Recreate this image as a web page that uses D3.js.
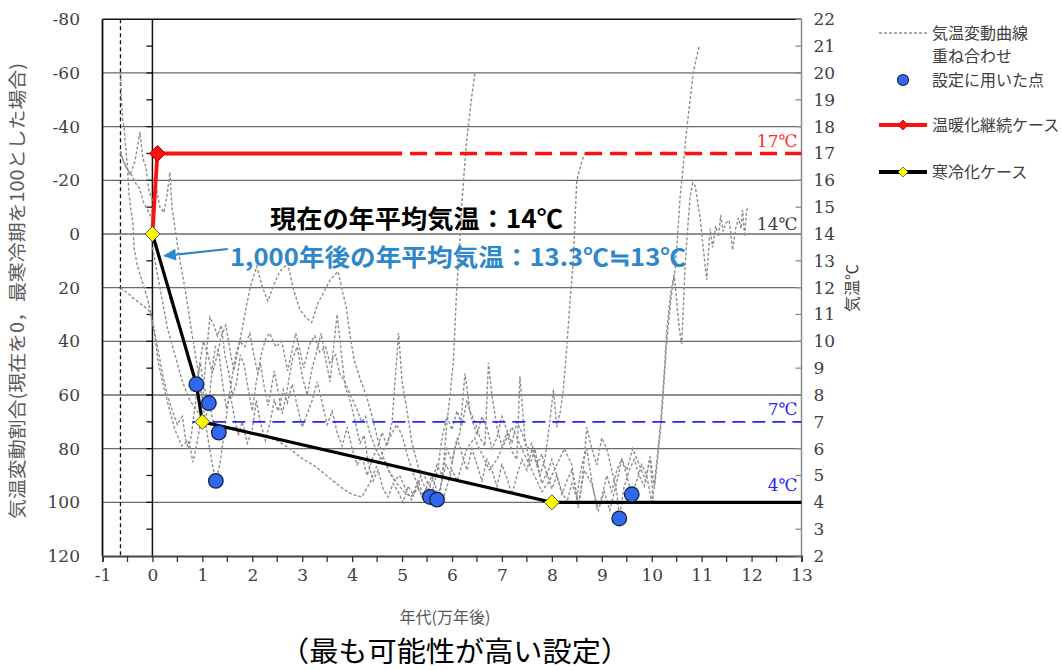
<!DOCTYPE html>
<html>
<head>
<meta charset="utf-8">
<script src="https://cdn.jsdelivr.net/npm/d3@7"></script>
<style>
  body { margin: 0; background: #fff; }
  svg { display: block; }
  text.num { font-family: "DejaVu Serif", "Liberation Serif", serif; }
</style>
</head>
<body>
<svg id="chart" width="1062" height="670"></svg>
<script>
// ---- data (x: 万年後, v: 気温変動割合, 0 = 現在, 100 = 最寒冷期) ----
const xTickValues = [-1, 0, 1, 2, 3, 4, 5, 6, 7, 8, 9, 10, 11, 12, 13];
const leftTickValues = [-80, -60, -40, -20, 0, 20, 40, 60, 80, 100, 120];
const rightTickValues = [22, 21, 20, 19, 18, 17, 16, 15, 14, 13, 12, 11, 10, 9, 8, 7, 6, 5, 4, 3, 2];

const warmingCase = [[0, 0], [0.1, -30], [5, -30]];
const warmingCaseExtension = [[5, -30], [13, -30]];
const warmingMarkers = [[0.1, -30]];
const coolingCase = [[0, 0], [0.88, 56], [1, 70], [8, 100], [13, 100]];
const coolingMarkers = [[0, 0], [1, 70], [8, 100]];
const settingPoints = [[0.88, 56], [1.13, 63], [1.33, 74], [1.27, 92], [5.56, 98], [5.70, 99], [9.35, 106], [9.6, 97]];
const coolingLevelStart = 0.8;
const coolingLevelTemp = 7;
const lastGlacialLine = -0.64;

const tempLabels = ["17℃", "14℃", "7℃", "4℃"];
const tempLabelValues = [17, 14, 7, 4];

// overlaid past temperature-variation curves
const curveA = [[-0.64,-60],[-0.62,-50],[-0.6,-43],[-0.57,-40],[-0.55,-35],[-0.52,-29],[-0.5,-25],[-0.47,-15],[-0.43,-9],[-0.39,-4],[-0.37,5],[-0.3,12],[-0.2,18],[-0.1,24],[0,32],[0.1,42],[0.2,52],[0.3,60],[0.4,66],[0.5,71],[0.6,68],[0.66,76],[0.72,80],[0.78,75],[0.88,60],[0.95,48],[1.02,40],[1.1,44],[1.2,52],[1.3,45],[1.38,38],[1.47,34],[1.55,43],[1.63,51],[1.75,40],[1.87,28],[1.97,19],[2.09,12],[2.19,19],[2.31,25],[2.43,19],[2.55,14],[2.71,11],[2.83,21],[2.95,28],[3.07,31],[3.19,33],[3.31,26],[3.42,22],[3.56,17],[3.72,14],[3.8,21],[3.88,27],[3.96,38],[4.04,47],[4.16,54],[4.28,60],[4.4,68],[4.52,77],[4.64,84],[4.76,89],[4.9,93],[5.04,96],[5.17,98],[5.32,95],[5.44,99],[5.56,98],[5.66,101],[5.76,97],[5.84,84],[5.89,72],[5.96,60],[6.03,47],[6.09,22],[6.14,8],[6.19,-9],[6.24,-22],[6.29,-34],[6.35,-44],[6.4,-52],[6.46,-60]];
const curveB = [[-0.64,-30],[-0.55,-26],[-0.45,-22],[-0.35,-27],[-0.25,-38],[-0.19,-28],[-0.13,-25],[-0.07,-16],[0.01,-12],[0.07,-18],[0.15,-10],[0.23,-8],[0.29,-14],[0.35,-23],[0.39,-10],[0.47,0],[0.55,10],[0.63,18],[0.71,27],[0.79,37],[0.87,46],[0.95,56],[1.03,66],[1.11,76],[1.19,85],[1.27,92],[1.35,86],[1.43,75],[1.51,64],[1.59,54],[1.67,45],[1.75,40],[1.85,42],[1.95,37],[2.03,45],[2.11,52],[2.19,44],[2.27,39],[2.35,37],[2.47,42],[2.59,40],[2.71,51],[2.79,44],[2.87,37],[2.95,43],[3.03,50],[3.15,41],[3.25,38],[3.35,44],[3.47,42],[3.55,48],[3.67,45],[3.75,52],[3.85,55],[3.99,61],[4.11,66],[4.19,70],[4.27,68],[4.35,74],[4.45,79],[4.55,83],[4.67,85],[4.75,89],[4.85,92],[4.95,90],[5.07,95],[5.19,99],[5.31,94],[5.41,88],[5.49,92],[5.59,95],[5.7,99],[5.8,92],[5.88,86],[5.96,89],[6.06,80],[6.16,74],[6.26,52],[6.36,66],[6.46,70],[6.56,76],[6.66,79],[6.73,48],[6.8,60],[6.9,72],[7.0,79],[7.1,74],[7.2,81],[7.3,84],[7.36,53],[7.46,76],[7.56,86],[7.66,80],[7.76,90],[7.86,84],[7.96,70],[8.03,58],[8.1,72],[8.17,66],[8.23,58],[8.3,42],[8.36,26],[8.43,10],[8.47,-8],[8.5,-20],[8.6,-27],[8.68,-31]];
const curveC = [[-0.64,20],[-0.5,22],[-0.38,24],[-0.24,26],[-0.1,28],[-0.05,29],[0.05,38],[0.11,47],[0.2,55],[0.28,61],[0.35,66],[0.45,73],[0.52,76],[0.59,79],[0.65,78],[0.71,77],[0.76,80],[0.81,85],[0.88,79],[0.95,72],[1.02,58],[1.08,45],[1.15,31],[1.23,34],[1.3,38],[1.38,34],[1.45,45],[1.52,51],[1.6,60],[1.68,56],[1.76,45],[1.84,49],[1.92,58],[2.0,66],[2.08,55],[2.16,48],[2.24,57],[2.32,64],[2.44,51],[2.52,59],[2.6,67],[2.7,58],[2.8,47],[2.9,42],[3.0,53],[3.1,60],[3.2,50],[3.3,43],[3.38,37],[3.46,46],[3.56,55],[3.64,40],[3.7,30],[3.78,44],[3.86,57],[3.96,62],[4.06,70],[4.16,78],[4.24,75],[4.32,85],[4.42,92],[4.52,88],[4.62,95],[4.72,98],[4.82,93],[4.92,96],[5.02,100],[5.12,94],[5.22,97],[5.32,92],[5.42,97],[5.52,100],[5.62,95],[5.72,87],[5.8,76],[5.9,68],[6.0,73],[6.1,66],[6.2,71],[6.3,62],[6.4,69],[6.5,75],[6.6,68],[6.7,72],[6.8,80],[6.9,76],[7.0,68],[7.1,73],[7.2,78],[7.3,70],[7.4,74],[7.5,80],[7.6,78],[7.7,86],[7.8,93],[7.9,89],[8.0,95],[8.1,90],[8.2,97],[8.3,92],[8.4,88],[8.53,102],[8.62,90],[8.7,72],[8.8,80],[8.9,86],[9.0,76],[9.1,80],[9.2,88],[9.3,96],[9.35,106],[9.45,94],[9.55,88],[9.65,84],[9.75,90],[9.85,94],[9.97,83],[10.05,94],[10.1,85],[10.18,70],[10.25,52],[10.3,36],[10.38,22],[10.47,13],[10.52,0],[10.57,-14],[10.64,-27],[10.7,-39],[10.77,-50],[10.83,-60],[10.9,-66],[10.95,-70]];
const curveD = [[-0.64,-31],[-0.58,-27],[-0.5,-24],[-0.42,-22],[-0.34,-19],[-0.26,-17],[-0.18,-12],[-0.1,-9],[-0.02,-6],[0.06,2],[0.14,8],[0.22,14],[0.3,20],[0.38,26],[0.46,31],[0.54,35],[0.62,40],[0.7,46],[0.78,51],[0.88,56],[0.96,48],[1.03,57],[1.13,63],[1.2,50],[1.26,42],[1.33,44],[1.4,55],[1.48,65],[1.56,60],[1.64,68],[1.72,75],[1.8,70],[1.9,78],[2.0,73],[2.08,62],[2.16,70],[2.26,77],[2.36,70],[2.44,62],[2.52,66],[2.62,58],[2.7,63],[2.8,56],[2.9,64],[3.0,72],[3.1,67],[3.2,62],[3.3,55],[3.4,63],[3.5,71],[3.6,66],[3.7,74],[3.8,79],[3.9,72],[4.0,80],[4.1,86],[4.2,83],[4.3,90],[4.4,84],[4.5,80],[4.6,74],[4.7,79],[4.8,70],[4.93,37],[5.0,55],[5.1,66],[5.2,78],[5.3,85],[5.4,92],[5.5,96],[5.6,92],[5.7,86],[5.8,90],[5.9,80],[6.0,85],[6.1,76],[6.2,82],[6.3,88],[6.4,80],[6.5,86],[6.6,92],[6.7,84],[6.8,88],[6.9,94],[7.0,86],[7.1,91],[7.2,97],[7.3,90],[7.4,84],[7.5,88],[7.6,80],[7.7,86],[7.8,82],[7.9,90],[8.0,84],[8.1,90],[8.2,96],[8.3,100],[8.4,93],[8.5,98],[8.6,86],[8.7,80],[8.8,92],[8.9,102],[9.0,98],[9.1,90],[9.2,96],[9.3,88],[9.4,84],[9.5,90],[9.6,97],[9.7,92],[9.8,86],[9.9,90],[10.0,100],[10.07,92],[10.13,82],[10.2,68],[10.3,40],[10.38,25],[10.45,15],[10.5,25],[10.55,35],[10.6,41],[10.64,25],[10.67,11],[10.72,-2],[10.77,-14],[10.82,-19],[10.87,-18],[10.92,-12],[10.97,-6],[11.03,5],[11.1,17],[11.14,6],[11.17,-2],[11.22,5],[11.28,-3],[11.34,1],[11.38,-7],[11.43,-1],[11.48,-4],[11.55,-5],[11.58,-1],[11.62,6],[11.68,-2],[11.74,-6],[11.79,-2],[11.82,-9],[11.86,1],[11.9,-9],[11.97,-10]];
const curveE = [[0,5],[0.15,20],[0.3,35],[0.45,45],[0.6,55],[0.75,62],[0.9,66],[1.05,70],[1.13,63],[1.22,70],[1.33,74],[1.45,73],[1.62,72],[1.9,74],[2.2,75],[2.5,77],[2.75,80],[3.02,84],[3.22,86],[3.42,89],[3.62,92],[3.82,95],[4.0,97],[4.19,98],[4.35,93],[4.55,84],[4.72,77],[4.89,71],[5.0,75],[5.1,82],[5.2,88],[5.3,93],[5.4,98],[5.5,94],[5.6,90],[5.7,96],[5.8,100],[5.9,94],[6.0,88],[6.1,92],[6.2,86],[6.3,80],[6.45,76],[6.6,82],[6.75,88],[6.9,84],[7.05,78],[7.2,72],[7.35,78],[7.5,84],[7.65,90],[7.8,96],[7.95,92],[8.1,86],[8.25,80],[8.4,86],[8.53,101],[8.65,88],[8.8,93],[8.93,103],[9.05,96],[9.16,103],[9.28,94],[9.4,84],[9.5,88],[9.62,80],[9.75,86],[9.88,92],[9.97,83],[10.03,100]];
const pastCurves = [curveA, curveB, curveC, curveD, curveE];

// ---- layout ----
const svg = d3.select("#chart");
const plot = { left: 102.5, right: 801.5, top: 19.3, bottom: 556 };
const x = d3.scaleLinear().domain([-1, 13]).range([plot.left, plot.right]);
const yL = d3.scaleLinear().domain([-80, 120]).range([plot.top, plot.bottom]);
const yR = d3.scaleLinear().domain([22, 2]).range([plot.top, plot.bottom]);
const jpFont = "'Noto Sans CJK JP','Noto Sans',sans-serif";
const line = d3.line().x(d => x(d[0])).y(d => yL(d[1]));

// horizontal grid lines every 20
svg.append("g").selectAll("line")
  .data(leftTickValues.filter(v => v > -80 && v < 120))
  .join("line")
  .attr("x1", plot.left).attr("x2", plot.right)
  .attr("y1", d => yL(d)).attr("y2", d => yL(d))
  .attr("stroke", "#6a6a6a").attr("stroke-width", 1.3);

// plot frame
svg.append("line").attr("x1", plot.left).attr("x2", plot.right)
  .attr("y1", yL(-80)).attr("y2", yL(-80)).attr("stroke", "#111").attr("stroke-width", 1.6);
svg.append("line").attr("x1", plot.right).attr("x2", plot.right)
  .attr("y1", plot.top).attr("y2", plot.bottom).attr("stroke", "#8a8a8a").attr("stroke-width", 1.5);
svg.append("line").attr("x1", x(-1)).attr("x2", x(-1))
  .attr("y1", plot.top).attr("y2", plot.bottom).attr("stroke", "#111").attr("stroke-width", 1.8);
svg.append("line").attr("x1", x(0)).attr("x2", x(0))
  .attr("y1", plot.top).attr("y2", plot.bottom).attr("stroke", "#111").attr("stroke-width", 1.5);
svg.append("line").attr("x1", x(lastGlacialLine)).attr("x2", x(lastGlacialLine))
  .attr("y1", plot.top).attr("y2", plot.bottom).attr("stroke", "#111").attr("stroke-width", 1.3)
  .attr("stroke-dasharray", "4,3");

// bottom axis
const xAxis = d3.axisBottom(x).tickValues(xTickValues).tickSize(6).tickFormat(d => String(d));
const gx = svg.append("g").attr("transform", `translate(0,${plot.bottom})`).call(xAxis);
gx.attr("font-family", null);
gx.select(".domain").attr("stroke", "#444").attr("stroke-width", 2);
gx.selectAll(".tick line").attr("stroke", "#333").attr("stroke-width", 1.3);
gx.selectAll(".tick text").attr("class", "num").attr("font-size", 17)
  .attr("fill", "#404040").attr("dy", "0.95em");
const xMinor = d3.range(-0.5, 13, 1);
svg.append("g").selectAll("line").data(xMinor).join("line")
  .attr("x1", d => x(d)).attr("x2", d => x(d))
  .attr("y1", plot.bottom).attr("y2", plot.bottom + 6)
  .attr("stroke", "#333").attr("stroke-width", 1.3);

// left axis: labels outside the frame, ticks along the x = 0 line
svg.append("g").selectAll("text").data(leftTickValues).join("text")
  .attr("class", "num")
  .attr("x", 80).attr("y", d => yL(d)).attr("dy", "0.35em")
  .attr("text-anchor", "end").attr("font-size", 17)
  .attr("fill", "#404040").text(d => String(d));
svg.append("g").selectAll("line").data(d3.range(-70, 120, 10)).join("line")
  .attr("x1", x(0) - 6).attr("x2", x(0))
  .attr("y1", d => yL(d)).attr("y2", d => yL(d))
  .attr("stroke", "#111").attr("stroke-width", 1.3);

// right axis (気温)
const yAxisR = d3.axisRight(yR).tickValues(rightTickValues).tickSize(0).tickPadding(12).tickFormat(d => String(d));
const gr = svg.append("g").attr("transform", `translate(${plot.right},0)`).call(yAxisR);
gr.attr("font-family", null);
gr.select(".domain").remove();
gr.selectAll(".tick text").attr("class", "num").attr("font-size", 17).attr("fill", "#404040");
svg.append("g").selectAll("line").data(rightTickValues).join("line")
  .attr("x1", plot.right - 6).attr("x2", plot.right)
  .attr("y1", d => yR(d)).attr("y2", d => yR(d))
  .attr("stroke", "#8a8a8a").attr("stroke-width", 1.3);

// axis titles
svg.append("text")
  .attr("transform", "translate(24,291) rotate(-90)")
  .attr("text-anchor", "middle").attr("font-family", jpFont).attr("font-size", 18)
  .attr("textLength", 456).attr("lengthAdjust", "spacingAndGlyphs")
  .attr("fill", "#595959").text("気温変動割合(現在を0，最寒冷期を100とした場合)");
svg.append("text")
  .attr("transform", "translate(858,288) rotate(-90)")
  .attr("text-anchor", "middle").attr("font-family", jpFont).attr("font-size", 16)
  .attr("fill", "#404040").text("気温℃");
svg.append("text").attr("x", 445).attr("y", 623)
  .attr("text-anchor", "middle").attr("font-family", jpFont).attr("font-size", 16)
  .attr("fill", "#595959").text("年代(万年後)");
svg.append("text").attr("x", 455).attr("y", 662)
  .attr("text-anchor", "middle").attr("font-family", jpFont).attr("font-size", 28)
  .attr("textLength", 350).attr("lengthAdjust", "spacingAndGlyphs")
  .attr("fill", "#000").text("（最も可能性が高い設定）");

// overlaid variation curves
svg.append("g").selectAll("path").data(pastCurves).join("path")
  .attr("d", line).attr("fill", "none")
  .attr("stroke", "#8e8e8e").attr("stroke-width", 1.4).attr("stroke-dasharray", "3,2");

// 7℃ level
svg.append("line")
  .attr("x1", x(coolingLevelStart)).attr("x2", x(13))
  .attr("y1", yR(coolingLevelTemp)).attr("y2", yR(coolingLevelTemp))
  .attr("stroke", "#2424ff").attr("stroke-width", 1.8).attr("stroke-dasharray", "13,7");

// warming case
svg.append("path").datum(warmingCaseExtension).attr("d", line)
  .attr("fill", "none").attr("stroke", "#ff1010").attr("stroke-width", 3.5)
  .attr("stroke-dasharray", "17,8").attr("stroke-dashoffset", -8);
svg.append("path").datum(warmingCase).attr("d", line)
  .attr("fill", "none").attr("stroke", "#ff1010").attr("stroke-width", 3.8);

// cooling case
svg.append("path").datum(coolingCase).attr("d", line)
  .attr("fill", "none").attr("stroke", "#000").attr("stroke-width", 3.2)
  .attr("stroke-linejoin", "round");

const diamond = s => `M0,${-s}L${s},0L0,${s}L${-s},0Z`;
svg.append("g").selectAll("path").data(warmingMarkers).join("path")
  .attr("transform", d => `translate(${x(d[0])},${yL(d[1])})`)
  .attr("d", diamond(8)).attr("fill", "#ff1010").attr("stroke", "#b00000").attr("stroke-width", 1);

// points used for the setting
svg.append("g").selectAll("circle").data(settingPoints).join("circle")
  .attr("cx", d => x(d[0])).attr("cy", d => yL(d[1])).attr("r", 7.3)
  .attr("fill", "#3068ee").attr("stroke", "#17244a").attr("stroke-width", 1.3);

svg.append("g").selectAll("path").data(coolingMarkers).join("path")
  .attr("transform", d => `translate(${x(d[0])},${yL(d[1])})`)
  .attr("d", diamond(7.5)).attr("fill", "#ffff00").attr("stroke", "#555").attr("stroke-width", 1);

// temperature level labels
const tempColors = ["#ff2a2a", "#404040", "#2424ff", "#2424ff"];
const tempOffsets = [-6, -4, -7, -11];
svg.append("g").selectAll("text").data(tempLabels).join("text")
  .attr("class", "num")
  .attr("x", plot.right - 4)
  .attr("y", (d, i) => yR(tempLabelValues[i]) + tempOffsets[i])
  .attr("text-anchor", "end").attr("font-size", 17)
  .attr("fill", (d, i) => tempColors[i]).text(d => d);

// annotations
svg.append("text").attr("x", 270).attr("y", 228)
  .attr("font-family", jpFont).attr("font-weight", "bold").attr("font-size", 25)
  .attr("textLength", 293).attr("lengthAdjust", "spacingAndGlyphs")
  .attr("fill", "#000").text("現在の年平均気温：14℃");
svg.append("text").attr("x", 230).attr("y", 266)
  .attr("font-family", jpFont).attr("font-weight", "bold").attr("font-size", 24)
  .attr("textLength", 456).attr("lengthAdjust", "spacingAndGlyphs")
  .attr("fill", "#2e87c9").text("1,000年後の年平均気温：13.3℃≒13℃");

const arrowTail = [1.51, 5.6], arrowTip = [0.21, 8.2];
const ax0 = x(arrowTail[0]), ay0 = yL(arrowTail[1]);
const ax1 = x(arrowTip[0]), ay1 = yL(arrowTip[1]);
const ang = Math.atan2(ay1 - ay0, ax1 - ax0);
const headLen = 13, headW = 6;
const bx = ax1 - headLen * Math.cos(ang), by = ay1 - headLen * Math.sin(ang);
svg.append("line").attr("x1", ax0).attr("y1", ay0).attr("x2", bx).attr("y2", by)
  .attr("stroke", "#2e87c9").attr("stroke-width", 2.2);
svg.append("path")
  .attr("d", `M${ax1},${ay1}L${bx - headW * Math.sin(ang)},${by + headW * Math.cos(ang)}L${bx + headW * Math.sin(ang)},${by - headW * Math.cos(ang)}Z`)
  .attr("fill", "#2e87c9");

// legend
const legend = svg.append("g");
const lx0 = 879, lx1 = 927, ltx = 932;
legend.append("line").attr("x1", lx0).attr("x2", lx1).attr("y1", 33).attr("y2", 33)
  .attr("stroke", "#8e8e8e").attr("stroke-width", 1.4).attr("stroke-dasharray", "3,2");
legend.append("circle").attr("cx", 903).attr("cy", 80).attr("r", 5.5)
  .attr("fill", "#3068ee").attr("stroke", "#17244a").attr("stroke-width", 1.2);
legend.append("line").attr("x1", lx0).attr("x2", lx1).attr("y1", 125).attr("y2", 125)
  .attr("stroke", "#ff1010").attr("stroke-width", 4);
legend.append("path").attr("transform", "translate(903,125)").attr("d", diamond(5))
  .attr("fill", "#ff1010").attr("stroke", "#b00000").attr("stroke-width", 0.8);
legend.append("line").attr("x1", lx0).attr("x2", lx1).attr("y1", 172).attr("y2", 172)
  .attr("stroke", "#000").attr("stroke-width", 4);
legend.append("path").attr("transform", "translate(903,172)").attr("d", diamond(5))
  .attr("fill", "#ffff00").attr("stroke", "#555").attr("stroke-width", 0.8);
const legendTexts = [["気温変動曲線", 33], ["重ね合わせ", 56], ["設定に用いた点", 80], ["温暖化継続ケース", 125], ["寒冷化ケース", 172]];
legend.selectAll("text").data(legendTexts).join("text")
  .attr("x", ltx).attr("y", d => d[1]).attr("dy", "0.35em")
  .attr("font-family", jpFont).attr("font-size", 16).attr("fill", "#404040")
  .text(d => d[0]);
</script>
</body>
</html>
